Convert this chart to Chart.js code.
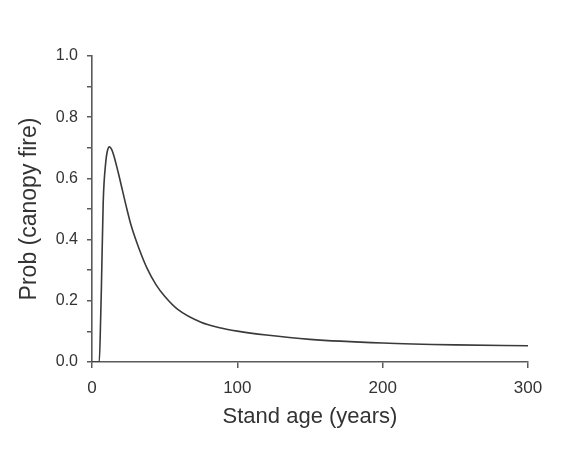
<!DOCTYPE html>
<html>
<head>
<meta charset="utf-8">
<script src="https://cdn.jsdelivr.net/npm/chart.js@4"></script>
<style>
  html, body { margin: 0; padding: 0; background: #fff; }
  #wrap { width: 569px; height: 459px; }
</style>
</head>
<body>
<div id="wrap"><canvas id="chart" width="569" height="459"></canvas></div>
<script>
// values
const ages  = [0, 5, 6, 6.5, 7.7, 9.5, 10.5, 12, 13.5, 15, 18, 21, 24, 27, 32, 38, 44, 50, 59, 75, 87, 100, 120, 150, 200, 250, 300];
const probs = [0, 0, 0.15, 0.25, 0.52, 0.655, 0.688, 0.703, 0.695, 0.675, 0.62, 0.56, 0.50, 0.445, 0.375, 0.305, 0.253, 0.215, 0.172, 0.13, 0.113, 0.101, 0.088, 0.074, 0.062, 0.056, 0.053];
const xTicks = [0, 100, 200, 300];

const points = ages.map((a, i) => ({ x: a, y: probs[i] }));
const axisColor = '#5a5a5a';
const textColor = '#333';
const fontFamily = '"Liberation Sans", Arial, sans-serif';

const ctx = document.getElementById('chart').getContext('2d');
const myChart = new Chart(ctx, {
    type: 'scatter',
    data: {
        datasets: [
            {
                label: 'Prob (canopy fire)',
                data: points,
                showLine: true,
                fill: false,
                borderColor: '#3a3a3a',
                borderWidth: 1.6,
                pointRadius: 0,
                cubicInterpolationMode: 'monotone'
            }
        ]
    },
    options: {
        responsive: false,
        animation: false,
        layout: { padding: { top: 56, right: 41, left: 0, bottom: 0 } },
        plugins: { legend: { display: false }, tooltip: { enabled: false } },
        scales: {
            x: {
                type: 'linear',
                min: 0,
                max: 300,
                afterBuildTicks: scale => { scale.ticks = xTicks.map(v => ({ value: v })); },
                afterFit: scale => { scale.height = 97; },
                border: { display: true, color: axisColor, width: 1.6 },
                grid: { drawOnChartArea: false, drawTicks: true, tickLength: 6, color: axisColor, lineWidth: 1.5 },
                ticks: { color: textColor, font: { family: fontFamily, size: 17 }, padding: 10, maxRotation: 0 },
                title: {
                    display: true,
                    text: 'Stand age (years)',
                    color: textColor,
                    font: { family: fontFamily, size: 22 },
                    padding: { top: 4, bottom: 29 }
                }
            },
            y: {
                min: 0,
                max: 1,
                afterFit: scale => { scale.width = 92; },
                border: { display: true, color: axisColor, width: 1.6 },
                grid: { drawOnChartArea: false, drawTicks: true, tickLength: 5, color: axisColor, lineWidth: 1.5 },
                ticks: {
                    stepSize: 0.1,
                    color: textColor,
                    font: { family: fontFamily, size: 16 },
                    padding: 9,
                    callback: v => (Math.round(v * 10) % 2 === 0 ? v.toFixed(1) : '')
                },
                title: {
                    display: true,
                    text: 'Prob (canopy fire)',
                    color: textColor,
                    font: { family: fontFamily, size: 23 },
                    padding: { top: 16, bottom: 0 }
                }
            }
        }
    }
});
</script>
</body>
</html>
